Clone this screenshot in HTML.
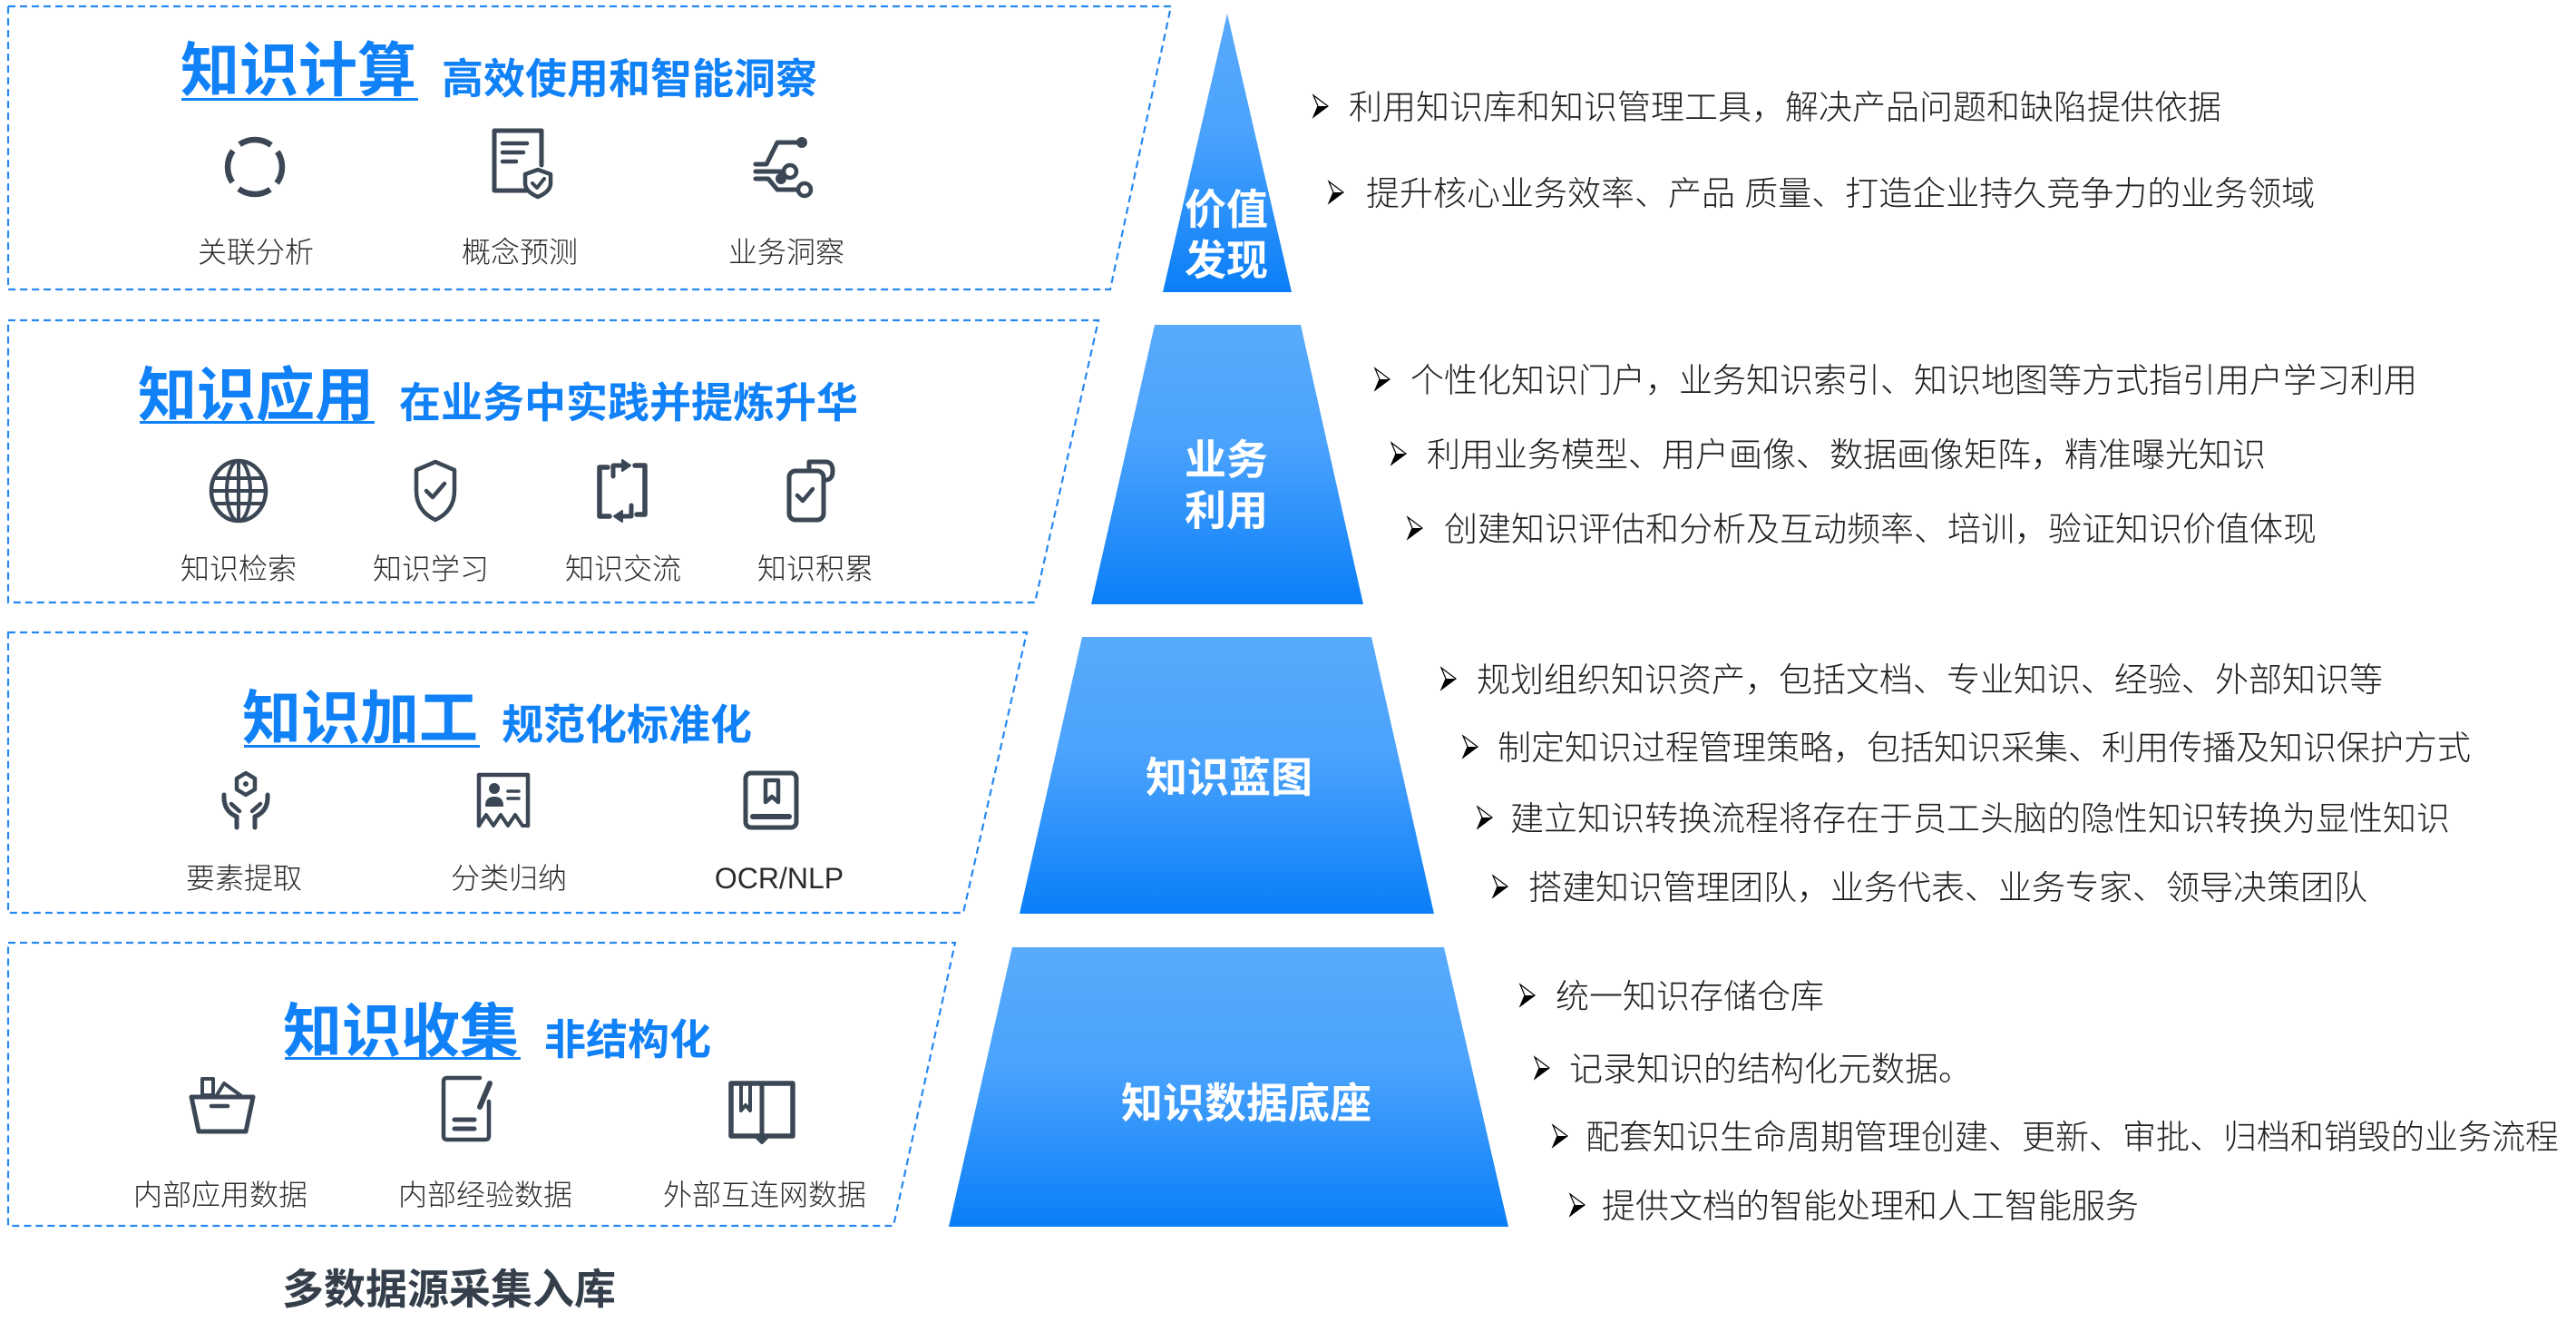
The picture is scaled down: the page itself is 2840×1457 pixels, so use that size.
<!DOCTYPE html>
<html><head><meta charset="utf-8">
<style>
html,body{margin:0;padding:0;background:#fff;}
body{width:2840px;height:1457px;position:relative;overflow:hidden;}
.t{position:absolute;white-space:nowrap;line-height:1;font-family:"Liberation Sans","Noto Sans CJK SC",sans-serif;}
.r{font-size:37px;color:#1e1e1e;font-weight:300;}
.lb{font-size:32px;color:#2c2c2c;width:300px;text-align:center;font-weight:300;}
.ti{font-size:65px;font-weight:700;color:#1181f7;}
.st{font-size:46px;font-weight:700;color:#1181f7;}
.pw{font-size:46px;font-weight:700;color:#fff;width:300px;text-align:center;}
.ul{position:absolute;height:3px;background:#1181f7;}
svg{position:absolute;left:0;top:0;}
</style></head><body>
<svg width="2840" height="1457" viewBox="0 0 2840 1457" xmlns="http://www.w3.org/2000/svg">
<defs>
<linearGradient id="g" x1="0" y1="0" x2="0" y2="1">
<stop offset="0" stop-color="#58aafc"/>
<stop offset="0.42" stop-color="#4ba3fc"/>
<stop offset="1" stop-color="#0a7ef8"/>
</linearGradient>
</defs>
<!-- dashed boxes -->
<g fill="none" stroke="#2688f2" stroke-width="2.2" stroke-dasharray="8 5">
<path d="M9 7 H1291 L1224 319 H9 Z"/>
<path d="M9 353 H1211 L1141 664 H9 Z"/>
<path d="M9 697 H1132 L1062 1006 H9 Z"/>
<path d="M9 1039 H1053 L985 1351 H9 Z"/>
</g>
<!-- pyramid -->
<polygon points="1353,15 1424,322 1282,322" fill="url(#g)"/>
<polygon points="1273,358 1434,358 1503,666 1203,666" fill="url(#g)"/>
<polygon points="1193,702 1512,702 1581,1007 1124,1007" fill="url(#g)"/>
<polygon points="1116,1044 1592,1044 1663,1352 1046,1352" fill="url(#g)"/>
<!-- bullet arrows -->
<g id="arrows">
<g transform="translate(1448,117)"><path d="M0 -12 L16 0 L0 12 L5 0 Z" fill="#fff" stroke="#000" stroke-width="1.2"/><path d="M5 0 L16 0 L0 12 Z" fill="#000"/></g>
<g transform="translate(1465,212)"><path d="M0 -12 L16 0 L0 12 L5 0 Z" fill="#fff" stroke="#000" stroke-width="1.2"/><path d="M5 0 L16 0 L0 12 Z" fill="#000"/></g>
<g transform="translate(1516,418)"><path d="M0 -12 L16 0 L0 12 L5 0 Z" fill="#fff" stroke="#000" stroke-width="1.2"/><path d="M5 0 L16 0 L0 12 Z" fill="#000"/></g>
<g transform="translate(1534,500)"><path d="M0 -12 L16 0 L0 12 L5 0 Z" fill="#fff" stroke="#000" stroke-width="1.2"/><path d="M5 0 L16 0 L0 12 Z" fill="#000"/></g>
<g transform="translate(1552,582)"><path d="M0 -12 L16 0 L0 12 L5 0 Z" fill="#fff" stroke="#000" stroke-width="1.2"/><path d="M5 0 L16 0 L0 12 Z" fill="#000"/></g>
<g transform="translate(1589,748)"><path d="M0 -12 L16 0 L0 12 L5 0 Z" fill="#fff" stroke="#000" stroke-width="1.2"/><path d="M5 0 L16 0 L0 12 Z" fill="#000"/></g>
<g transform="translate(1613,823)"><path d="M0 -12 L16 0 L0 12 L5 0 Z" fill="#fff" stroke="#000" stroke-width="1.2"/><path d="M5 0 L16 0 L0 12 Z" fill="#000"/></g>
<g transform="translate(1629,901)"><path d="M0 -12 L16 0 L0 12 L5 0 Z" fill="#fff" stroke="#000" stroke-width="1.2"/><path d="M5 0 L16 0 L0 12 Z" fill="#000"/></g>
<g transform="translate(1646,977)"><path d="M0 -12 L16 0 L0 12 L5 0 Z" fill="#fff" stroke="#000" stroke-width="1.2"/><path d="M5 0 L16 0 L0 12 Z" fill="#000"/></g>
<g transform="translate(1676,1097)"><path d="M0 -12 L16 0 L0 12 L5 0 Z" fill="#fff" stroke="#000" stroke-width="1.2"/><path d="M5 0 L16 0 L0 12 Z" fill="#000"/></g>
<g transform="translate(1692,1177)"><path d="M0 -12 L16 0 L0 12 L5 0 Z" fill="#fff" stroke="#000" stroke-width="1.2"/><path d="M5 0 L16 0 L0 12 Z" fill="#000"/></g>
<g transform="translate(1712,1252)"><path d="M0 -12 L16 0 L0 12 L5 0 Z" fill="#fff" stroke="#000" stroke-width="1.2"/><path d="M5 0 L16 0 L0 12 Z" fill="#000"/></g>
<g transform="translate(1731,1328)"><path d="M0 -12 L16 0 L0 12 L5 0 Z" fill="#fff" stroke="#000" stroke-width="1.2"/><path d="M5 0 L16 0 L0 12 Z" fill="#000"/></g>
</g>
<!-- icons -->
<g fill="none" stroke="#3b4754" stroke-width="5" stroke-linecap="round" stroke-linejoin="round">
<g transform="translate(241,144)">
<circle cx="40" cy="40" r="30" stroke-dasharray="37 10.1" stroke-dashoffset="18" stroke-linecap="butt" stroke-width="6.5"/>
</g>
<g transform="translate(535,140)">
<path d="M46 70 H10 V4 H62 V42"/>
<path d="M19 18 H46 M19 28 H42 M19 38 H34" stroke-width="4.5"/>
<path d="M58 47 L72 52 V62 Q72 71 58 77 Q44 71 44 62 V52 Z" stroke-width="4.5"/>
<path d="M52 62 L57 67 L65 57" stroke-width="4"/>
</g>
<g transform="translate(825,145)">
<path d="M8 36 H20 L32 12 H55"/>
<circle cx="59" cy="12" r="3.5" fill="#3b4754"/>
<path d="M8 44 H38"/>
<circle cx="46" cy="44" r="7" stroke-width="4.5"/>
<path d="M8 52 H22 L32 64 H54"/>
<circle cx="62" cy="64" r="7" stroke-width="4.5"/>
<circle cx="36" cy="52" r="3.5" fill="#3b4754"/>
</g>
<g transform="translate(223,501)">
<ellipse cx="40" cy="40" rx="30" ry="33" stroke-width="4.5"/>
<ellipse cx="40" cy="40" rx="13" ry="33" stroke-width="4"/>
<path d="M40 7 V73 M10 40 H70 M14 26 H66 M14 54 H66" stroke-width="4"/>
</g>
<g transform="translate(440,501)">
<path d="M40 8 L61 17 V40 Q61 62 40 72 Q19 62 19 40 V17 Z" stroke-width="4.5"/>
<path d="M30 40 L37 47 L50 32" stroke-width="4.5"/>
</g>
<g transform="translate(646,501)">
<path d="M24 14 H15 V68 H26" stroke-width="5.5"/>
<path d="M30 24 V12 H40" stroke-width="5"/>
<polygon points="40,6 49,12 40,18" fill="#3b4754" stroke-width="2"/>
<path d="M56 66 H65 V12 H54" stroke-width="5.5"/>
<path d="M50 56 V68 H40" stroke-width="5"/>
<polygon points="40,62 31,68 40,74" fill="#3b4754" stroke-width="2"/>
</g>
<g transform="translate(852,501)">
<rect x="18" y="18" width="38" height="54" rx="7" stroke-width="5"/>
<path d="M40 18 V8 H58 Q66 8 66 18 Q66 28 58 28 H56" stroke-width="5"/>
<path d="M27 45 L33 51 L44 38" stroke-width="4.5"/>
</g>
<g transform="translate(231,842)">
<path d="M40 10 L50 16 V28 L40 34 L30 28 V16 Z" stroke-width="4.5"/>
<circle cx="40" cy="22" r="2.5" fill="#3b4754" stroke-width="1"/>
<path d="M16 34 Q15 52 30 58 V70" stroke-width="5"/>
<path d="M64 34 Q65 52 50 58 V70" stroke-width="5"/>
<path d="M24 44 L33 52 M56 44 L47 52" stroke-width="4.5"/>
</g>
<g transform="translate(515,842)">
<path d="M13 68 V12 H67 V68" stroke-width="4.5"/>
<circle cx="30" cy="27" r="5" fill="#3b4754" stroke-width="2"/>
<path d="M21 46 Q21 37 30 37 Q39 37 39 46 Z" fill="#3b4754" stroke-width="2"/>
<path d="M45 30 H57 M45 38 H57" stroke-width="3.5"/>
<path d="M13 68 L21 56 L29 68 L37 56 L45 68 L53 56 L61 68 H67" stroke-width="4"/>
</g>
<g transform="translate(810,842)">
<rect x="12" y="10" width="56" height="60" rx="6" stroke-width="5"/>
<path d="M34 18 V42 L41 36 L48 42 V18 Z" stroke-width="4.5"/>
<path d="M20 58 H60" stroke-width="6"/>
</g>
<g transform="translate(205,1177)">
<path d="M6 32 H74 L66 70 H14 Z" stroke-width="5"/>
<rect x="18" y="12" width="12" height="18" stroke-width="4"/>
<path d="M34 30 L42 17 L60 30" stroke-width="4"/>
<path d="M28 42 H46" stroke-width="4.5"/>
</g>
<g transform="translate(477,1180)">
<path d="M52 8 H16 Q12 8 12 12 V72 Q12 76 16 76 H58 Q62 76 62 72 V34" stroke-width="4.5"/>
<path d="M52 40 L63 14" stroke-width="6"/>
<path d="M24 54 H46 M24 64 H46" stroke-width="5"/>
</g>
<g transform="translate(800,1182)">
<path d="M40 12 V74" stroke-width="5"/>
<path d="M40 12 H6 V70 H40 H74 V12 H40" stroke-width="5.5"/>
<path d="M34 71 L40 77 L46 71" stroke-width="4"/>
<path d="M17 12 V42 L22 36 L27 42 V12" stroke-width="4"/>
</g>
</g>
</svg>

<div class="ul" style="left:200px;top:108px;width:261px;"></div>
<div class="ul" style="left:154px;top:464px;width:259px;"></div>
<div class="ul" style="left:269px;top:821px;width:260px;"></div>
<div class="ul" style="left:314px;top:1165px;width:260px;"></div>

<div class="t ti" style="left:199px;top:45px;">知识计算</div>
<div class="t st" style="left:487px;top:64px;">高效使用和智能洞察</div>
<div class="t ti" style="left:152px;top:403px;">知识应用</div>
<div class="t st" style="left:440px;top:421px;">在业务中实践并提炼升华</div>
<div class="t ti" style="left:267px;top:759px;">知识加工</div>
<div class="t st" style="left:553px;top:776px;">规范化标准化</div>
<div class="t ti" style="left:312px;top:1104px;">知识收集</div>
<div class="t st" style="left:600px;top:1123px;">非结构化</div>

<div class="t lb" style="left:132px;top:262px;">关联分析</div>
<div class="t lb" style="left:423px;top:262px;">概念预测</div>
<div class="t lb" style="left:717px;top:262px;">业务洞察</div>

<div class="t lb" style="left:113px;top:611px;">知识检索</div>
<div class="t lb" style="left:325px;top:611px;">知识学习</div>
<div class="t lb" style="left:537px;top:611px;">知识交流</div>
<div class="t lb" style="left:749px;top:611px;">知识积累</div>

<div class="t lb" style="left:119px;top:952px;">要素提取</div>
<div class="t lb" style="left:411px;top:952px;">分类归纳</div>
<div class="t lb" style="left:709px;top:952px;">OCR/NLP</div>

<div class="t lb" style="left:93px;top:1301px;">内部应用数据</div>
<div class="t lb" style="left:385px;top:1301px;">内部经验数据</div>
<div class="t lb" style="left:693px;top:1301px;">外部互连网数据</div>

<div class="t" style="left:311px;top:1398px;font-size:46px;font-weight:700;color:#353f4b;">多数据源采集入库</div>

<div class="t pw" style="left:1202px;top:208px;">价值</div>
<div class="t pw" style="left:1202px;top:264px;">发现</div>
<div class="t pw" style="left:1202px;top:484px;">业务</div>
<div class="t pw" style="left:1202px;top:540px;">利用</div>
<div class="t pw" style="left:1205px;top:834px;">知识蓝图</div>
<div class="t pw" style="left:1224px;top:1193px;">知识数据底座</div>

<div class="t r" style="left:1487px;top:100px;">利用知识库和知识管理工具，解决产品问题和缺陷提供依据</div>
<div class="t r" style="left:1506px;top:195px;">提升核心业务效率、产品 质量、打造企业持久竞争力的业务领域</div>
<div class="t r" style="left:1555px;top:401px;">个性化知识门户，业务知识索引、知识地图等方式指引用户学习利用</div>
<div class="t r" style="left:1573px;top:483px;">利用业务模型、用户画像、数据画像矩阵，精准曝光知识</div>
<div class="t r" style="left:1592px;top:565px;">创建知识评估和分析及互动频率、培训，验证知识价值体现</div>
<div class="t r" style="left:1628px;top:731px;">规划组织知识资产，包括文档、专业知识、经验、外部知识等</div>
<div class="t r" style="left:1651px;top:806px;">制定知识过程管理策略，包括知识采集、利用传播及知识保护方式</div>
<div class="t r" style="left:1665px;top:884px;">建立知识转换流程将存在于员工头脑的隐性知识转换为显性知识</div>
<div class="t r" style="left:1685px;top:960px;">搭建知识管理团队，业务代表、业务专家、领导决策团队</div>
<div class="t r" style="left:1715px;top:1080px;">统一知识存储仓库</div>
<div class="t r" style="left:1730px;top:1160px;">记录知识的结构化元数据。</div>
<div class="t r" style="left:1748px;top:1235px;">配套知识生命周期管理创建、更新、审批、归档和销毁的业务流程</div>
<div class="t r" style="left:1766px;top:1311px;">提供文档的智能处理和人工智能服务</div>
</body></html>
